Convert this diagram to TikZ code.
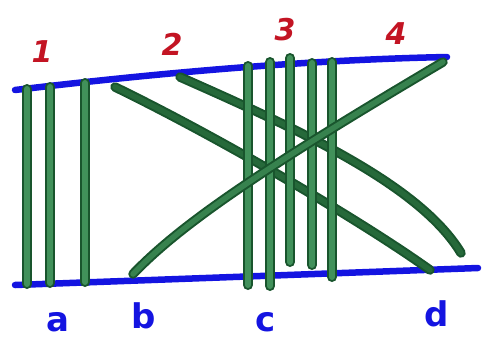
\documentclass[tikz,border=0pt]{standalone}
\usepackage{fontspec}
\setmainfont{DejaVu Sans}
\definecolor{penblue}{RGB}{20,20,225}
\definecolor{penred}{RGB}{195,20,35}
\definecolor{bardark}{RGB}{25,85,45}
\definecolor{barmid}{RGB}{65,145,90}
\definecolor{diagmid}{RGB}{38,105,58}
\definecolor{risemid}{RGB}{55,130,78}
\tikzset{
  rail/.style={draw=penblue, line width=6.5pt, line cap=round},
  vbar/.style={draw=bardark, line width=2pt, double=barmid, double distance=6pt, line cap=round},
  dbar/.style={draw=bardark, line width=2pt, double=diagmid, double distance=5.5pt, line cap=round},
  rbar/.style={draw=bardark, line width=2pt, double=risemid, double distance=5.5pt, line cap=round},
  toplab/.style={text=penred, font=\fontsize{30}{32}\selectfont\bfseries\itshape},
  botlab/.style={text=penblue, font=\fontsize{34}{36}\selectfont\bfseries}
}
\begin{document}
\begin{tikzpicture}[x=1pt,y=-1pt]
\useasboundingbox (0,0) rectangle (490,349);
% rails (behind the bars)
\coordinate (TL) at (15,90);
\coordinate (TR) at (447,57);
\coordinate (BL) at (15,285);
\coordinate (BR) at (478,268);
\draw[rail] (TL) .. controls (150,74) and (300,60) .. (TR);
\draw[rail] (BL) -- (BR);
% descending diagonals
\coordinate (d1s) at (115,87);
\coordinate (d1e) at (430,270);
\coordinate (d2s) at (180,77);
\coordinate (d2e) at (461,253);
\draw[dbar] (d1s) .. controls (220,138) and (360,220) .. (d1e);
\draw[dbar] (d2s) .. controls (300,130) and (420,185) .. (d2e);
% left verticals
\foreach \x/\t/\b [count=\i] in {27/89/284, 50/87/283, 85/83/282} {
  \coordinate (lt\i) at (\x,\t);
  \coordinate (lb\i) at (\x,\b);
  \draw[vbar] (lt\i) -- (lb\i);
}
% cluster verticals
\foreach \x/\t/\b [count=\i] in {248/66/285, 270/62/286, 290/58/262, 312/63/265, 332/62/277} {
  \coordinate (ct\i) at (\x,\t);
  \coordinate (cb\i) at (\x,\b);
  \draw[vbar] (ct\i) -- (cb\i);
}
% rising diagonal (front)
\coordinate (d3s) at (133,274);
\coordinate (d3e) at (443,62);
\draw[rbar] (d3s) .. controls (180,225) and (260,170) .. (d3e);
% labels
\node[toplab] (n1) at (42,52) {1};
\node[toplab] (n2) at (172,44) {2};
\node[toplab] (n3) at (285,30) {3};
\node[toplab] (n4) at (396,34) {4};
\node[botlab] (la) at (58,322) {a};
\node[botlab] (lb) at (144,316) {b};
\node[botlab] (lc) at (266,322) {c};
\node[botlab] (ld) at (437,314) {d};
\end{tikzpicture}
\end{document}
